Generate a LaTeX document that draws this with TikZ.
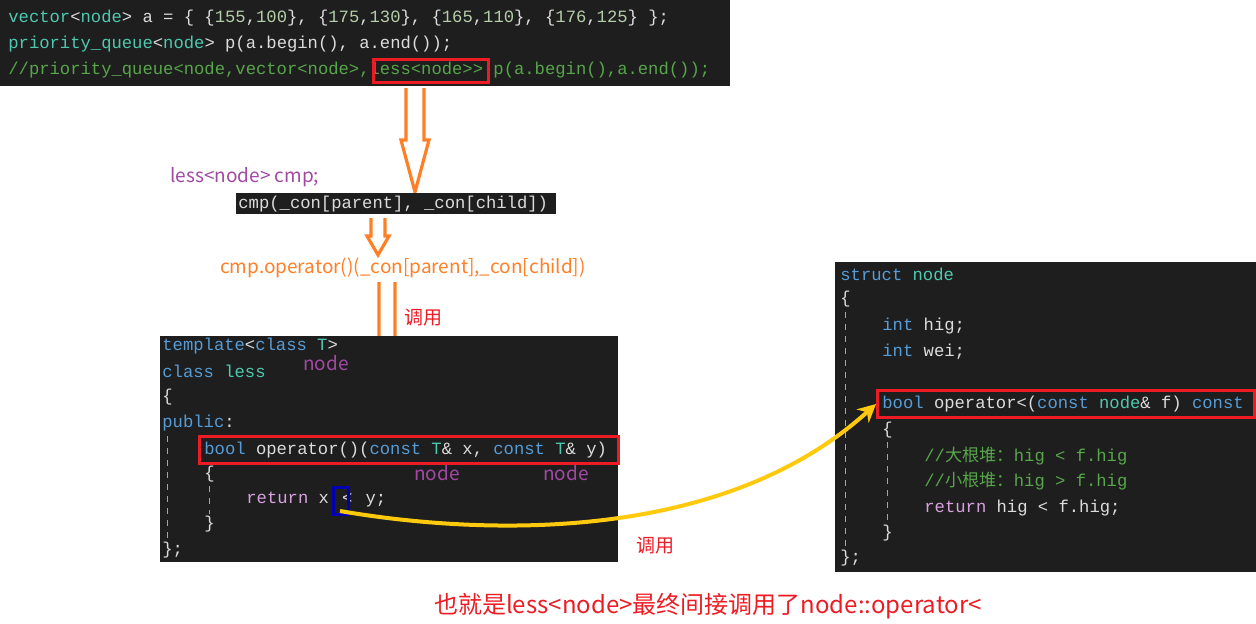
\documentclass[tikz,border=0pt]{standalone}
\usepackage{fontspec}
\usetikzlibrary{arrows.meta}
\setmainfont{Noto Sans CJK SC}
\setmonofont{Liberation Mono}
\newfontfamily\cjk{Noto Sans CJK SC}
\definecolor{codebg}{HTML}{1E1E1E}
\definecolor{kwblue}{HTML}{569CD6}
\definecolor{tyteal}{HTML}{4EC9B0}
\definecolor{cmgreen}{HTML}{57A64A}
\definecolor{txlight}{HTML}{DCDCDC}
\definecolor{retpurple}{HTML}{D8A0DF}
\definecolor{numgreen}{HTML}{B5CEA8}
\definecolor{arrorange}{HTML}{FF7F27}
\definecolor{lblpurple}{HTML}{A349A4}
\definecolor{boxred}{HTML}{ED1C24}
\definecolor{curveyellow}{HTML}{FFC90E}
\newcommand\kw[1]{\textcolor{kwblue}{#1}}
\newcommand\ty[1]{\textcolor{tyteal}{#1}}
\newcommand\cm[1]{\textcolor{cmgreen}{#1}}
\newcommand\nm[1]{\textcolor{numgreen}{#1}}
\newcommand\rt[1]{\textcolor{retpurple}{#1}}
\newcommand\hollowarr[6]{% x, top, head start, tip, shaft half, head half
  \draw[arrorange, line width=1.6pt, line join=miter]
    (#1-#5,#2) -- (#1-#5,#3) -- (#1-#6,#3) -- (#1,#4) -- (#1+#6,#3) -- (#1+#5,#3) -- (#1+#5,#2);}
\tikzset{
  codeline/.style={anchor=west, inner sep=0pt, text=txlight, font=\ttfamily\fontsize{8.6}{10}\selectfont},
  redbox/.style={draw=boxred, line width=1.5pt},
  guide/.style={gray!70, dashed, line width=0.4pt},
  lbl/.style={inner sep=0pt, font=\fontsize{9.5}{11}\selectfont}
}
\begin{document}
\begin{tikzpicture}[x=0.5pt, y=-0.5pt]
\useasboundingbox (0,0) rectangle (1256,623);

% top code block
\fill[codebg] (0,0) rectangle (730,86);
\node[codeline] (v1) at (8,18) {\ty{vector}<\ty{node}> a = \{ \{\nm{155},\nm{100}\}, \{\nm{175},\nm{130}\}, \{\nm{165},\nm{110}\}, \{\nm{176},\nm{125}\} \};};
\node[codeline] (v2) at (8,44) {\ty{priority\_queue}<\ty{node}> p(a.begin(), a.end());};
\node[codeline] (v3) at (8,70) {\cm{//priority\_queue<node,vector<node>,less<node>> p(a.begin(),a.end());}};
\draw[redbox] (373,59) rectangle (488,82);

\hollowarr{415}{88}{140}{192}{9}{14}

% cmp
\node[lbl, text=lblpurple, anchor=west] (cmpdecl) at (170,177) {less<node> cmp;};
\fill[codebg] (236,193) rectangle (556,214);
\node[codeline] (cmpcall) at (238,204) {cmp(\_con[parent], \_con[child])};

\hollowarr{378}{218}{236}{255}{7}{11}

\node[lbl, text=arrorange] (opcall) at (403,268) {cmp.operator()(\_con[parent],\_con[child])};

\hollowarr{387}{282}{353}{428}{8}{15}
\node[lbl, text=boxred] (call1) at (423,318) {调用};

% class less
\fill[codebg] (160,336) rectangle (618,562);
\node[codeline] at (162,346) {\kw{template}<\kw{class} \ty{T}>};
\node[codeline] at (162,371) {\kw{class} \ty{less}};
\node[codeline] at (162,397) {\{};
\node[codeline] at (162,423) {\kw{public}:};
\node[codeline] at (204,450) {\kw{bool} operator()(\kw{const} \ty{T}\& x, \kw{const} \ty{T}\& y)};
\node[codeline] at (204,474) {\{};
\node[codeline] at (246,500) {\rt{return} x \,<\, y;};
\node[codeline] at (204,524) {\}};
\node[codeline] at (162,550) {\};};
\draw[guide] (167,436) -- (167,540);
\draw[guide] (209,486) -- (209,514);
\node[lbl, text=lblpurple] at (326,363) {node};
\node[lbl, text=lblpurple] at (437,473) {node};
\node[lbl, text=lblpurple] at (566,473) {node};
\draw[redbox] (199,436) rectangle (618,463);
\draw[draw=blue!70!black, line width=1.5pt] (333,487) rectangle (348,514) coordinate (lt);

% struct node
\fill[codebg] (835,262) rectangle (1256,572);
\node[codeline] at (840,274) {\kw{struct} \ty{node}};
\node[codeline] at (840,299) {\{};
\node[codeline] at (882,326) {\kw{int} hig;};
\node[codeline] at (882,352) {\kw{int} wei;};
\node[codeline] at (882,404) {\kw{bool} operator<(\kw{const} \ty{node}\& f) \kw{const}};
\node[codeline] at (882,430) {\{};
\node[codeline] at (924,456) {\cm{//{\cjk 大根堆：}hig < f.hig}};
\node[codeline] at (924,481) {\cm{//{\cjk 小根堆：}hig > f.hig}};
\node[codeline] at (924,508) {\rt{return} hig < f.hig;};
\node[codeline] at (882,533) {\}};
\node[codeline] at (840,558) {\};};
\draw[guide] (845,312) -- (845,548);
\draw[guide] (887,442) -- (887,522);
\draw[redbox] (877,390) rectangle (1254,417);
\coordinate (optarget) at (876,404);

% yellow call curve
\draw[curveyellow, line width=2pt, -{Stealth[length=9pt,width=9pt]}]
  (lt) ++(-8,-3) .. controls (480,535) and (720,545) .. (optarget);
\node[lbl, text=boxred] (call2) at (655,546) {调用};

\node[text=boxred, inner sep=0pt, font=\fontsize{12}{14}\selectfont] (summary) at (708,606) {也就是less<node>最终间接调用了node::operator<};
\end{tikzpicture}
\end{document}
